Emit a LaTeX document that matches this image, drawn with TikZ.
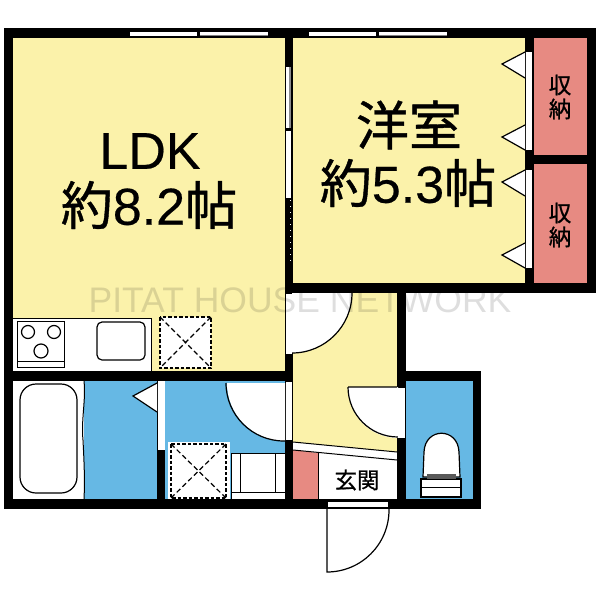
\documentclass[tikz,border=0pt]{standalone}
\usepackage{fontspec}
\setmainfont[FakeBold=0.4]{Liberation Sans}
\newfontfamily\plainsans{Liberation Sans}
\newfontfamily\cjk[FakeBold=0.8]{Noto Sans CJK JP}
\definecolor{yel}{HTML}{FBF2AA}
\definecolor{blu}{HTML}{66B8E4}
\definecolor{pnk}{HTML}{E78A82}
\tikzset{
  wall/.style={fill=black,draw=none},
  ln/.style={draw=black,line width=1pt},
  dashbox/.style={draw=black,fill=white,line width=1.2pt,dash pattern=on 3.5pt off 2pt},
  dashx/.style={draw=black,line width=1.2pt,dash pattern=on 5pt off 3pt},
  roomtxt/.style={font=\fontsize{52}{56}\selectfont,align=center,inner sep=0pt},
  smalltxt/.style={font=\cjk\fontsize{22.5}{24}\selectfont,align=center,inner sep=0pt},
}
\begin{document}
\begin{tikzpicture}[x=1pt,y=-1pt]
\useasboundingbox (0,0) rectangle (600,600);
\fill[white] (0,0) rectangle (600,600);
% room fills
\fill[yel] (13,38) rectangle (285,372);
\fill[yel] (293,38) rectangle (525,283);
\fill[yel] (293,293) rectangle (397,452) ;
\fill[white] (293,442) -- (397,452) -- (397,499) -- (293,499) -- cycle;
\fill[pnk] (534,38) rectangle (587,155);
\fill[pnk] (534,164) rectangle (587,290);
\fill[blu] (406,381) rectangle (473,499);
\fill[blu] (165,381) rectangle (285,499);
\fill[blu] (84,381) rectangle (157,499);
\fill[pnk] (293,450) -- (318,453) -- (318,499) -- (293,499) -- cycle;
% walls
\fill[wall] (4,28) rectangle (596,38);
\fill[wall] (4,28) rectangle (13,509);
\fill[wall] (4,499) rectangle (481,509);
\fill[wall] (285,28) rectangle (293,509);
\fill[wall] (525,28) rectangle (534,293);
\fill[wall] (587,28) rectangle (596,293);
\fill[wall] (293,283) rectangle (596,293);
\fill[wall] (525,155) rectangle (596,164);
\fill[wall] (397,283) rectangle (406,509);
\fill[wall] (397,371) rectangle (481,381);
\fill[wall] (473,371) rectangle (481,509);
\fill[wall] (4,371) rectangle (293,381);
\fill[wall] (157,381) rectangle (165,509);
% kitchen
\draw[ln,fill=white] (13,318) -- (151,318) -- (151,371) -- (13,371);
\draw[ln] (17,321) rectangle (64,367);
\draw[ln] (17,361) -- (64,361);
\draw[ln,line width=1.2pt] (28,332) circle (6.5);
\draw[ln,line width=1.2pt] (54,332) circle (6.5);
\draw[ln,line width=1.2pt] (41,351) circle (7);
\draw[ln,line width=1.2pt,rounded corners=5pt] (97,322) rectangle (145,360);
% pans
\draw[dashbox] (160,317) rectangle (211,368);
\draw[dashx] (160,317) -- (211,368) (211,317) -- (160,368);
\fill[white] (168,442) rectangle (230,499);
\draw[dashbox] (171,444) rectangle (226,498);
\draw[dashx] (171,444) -- (226,498) (226,444) -- (171,498);
% bath
\fill[white] (13,381) rectangle (84,499);
\draw[ln] (84,381) .. controls (86,400) and (81,420) .. (83,440) .. controls (84,460) and (85,480) .. (84,499);
\draw[ln,line width=1.2pt,rounded corners=16pt] (20,384) rectangle (77,493);
% wash basin
\draw[ln,fill=white] (231,453) -- (285,453) -- (285,499) -- (231,499) -- cycle;
\draw[ln] (240,453) -- (240,492) (275,453) -- (275,492) (231,492) -- (285,492);
% door wash
\fill[white] (226,383) -- (285,383) -- (285,441) arc[start angle=90,end angle=180,radius=58];
\draw[draw=black,line width=1.2pt] (226,383) arc[start angle=180,end angle=90,radius=58] -- (286,441);
\fill[white] (286,382) rectangle (292,440);
% bath door
\fill[white] (158,381) rectangle (165,450);
\fill[white] (157,383) -- (133,396) -- (157,412) -- cycle;
\draw[draw=black,line width=1.2pt] (157,383) -- (133,396) -- (157,412);
% hall door 1
\fill[white] (352,293) arc[start angle=0,end angle=90,radius=60] -- (292,293) -- cycle;
\draw[draw=black,line width=1.2pt] (352,293) arc[start angle=0,end angle=90,radius=60];
\fill[white] (286,294) rectangle (292,354);
% hall door 2
\fill[white] (348,387) -- (398,387) -- (398,438) arc[start angle=90,end angle=180,radius=50] ;
\draw[draw=black,line width=1.2pt] (348,387) -- (397,387) (348,387) arc[start angle=180,end angle=90,radius=50];
\fill[white] (398,388) rectangle (405,438);
% entry strip
\draw[ln] (293,442) -- (397,452);
\draw[ln] (293,450) -- (397,460);
\draw[ln] (318,453) -- (318,499);
% entrance door
\fill[white] (328,502) rectangle (388,507);
\draw[draw=black,line width=1.2pt] (327,509) -- (327,572) arc[start angle=90,end angle=0,radius=62] -- (389,509);
% toilet
\draw[ln,line width=1.2pt,fill=white] (423,477) -- (424,452) .. controls (425,427) and (458,427) .. (459,452) -- (460,477) -- cycle;
\draw[ln,line width=1.2pt,fill=white] (421,479) rectangle (461,497);
\fill[black!65] (427,474) rectangle (456,479);
\draw[ln] (421,487) -- (461,487);
% windows
\fill[white] (130,32) rectangle (197,36);
\fill[white] (200,32) rectangle (268,35);
\fill[white] (309,32) rectangle (376,36);
\fill[white] (379,32) rectangle (447,35);
\fill[black!50] (200,35) rectangle (268,36);
\fill[black!50] (379,35) rectangle (447,36);
% sliding doors
\fill[white] (286,67) rectangle (289,128);
\fill[black!45] (289,67) rectangle (291,128);
\fill[white] (286,131) rectangle (291,198);
\draw[white,line width=1pt,dash pattern=on 1pt off 5pt] (290,200) -- (290,263);
% closet doors
\fill[white] (526,52) rectangle (532,150);
\fill[white] (526,170) rectangle (532,268);
\foreach \a/\b/\c in {52/64/78,125/137/150,170/182/196,243/255/268}{
  \fill[white] (525,\a) -- (502,\b) -- (525,\c) -- cycle;
  \draw[ln,line width=1.2pt] (525,\a) -- (502,\b) -- (525,\c);
}
% labels
\node[roomtxt] (ldk) at (150,151) {LDK};
\node[roomtxt] (ldkA) at (149,205) {{\cjk 約}8.2{\cjk 帖}};
\node[roomtxt,font=\cjk\fontsize{53}{56}\selectfont] (yo) at (409,125) {洋室};
\node[roomtxt] (yoA) at (408,183) {{\cjk 約}5.3{\cjk 帖}};
\node[smalltxt] (sh1) at (560,97) {収\\納};
\node[smalltxt] (sh2) at (560,225) {収\\納};
\node[smalltxt] (gen) at (357,480) {玄関};
\node[inner sep=0pt,text=black,opacity=.13,font=\plainsans\fontsize{35.5}{38}\selectfont] (wm) at (300,300) {PITAT HOUSE NETWORK};
\end{tikzpicture}
\end{document}
